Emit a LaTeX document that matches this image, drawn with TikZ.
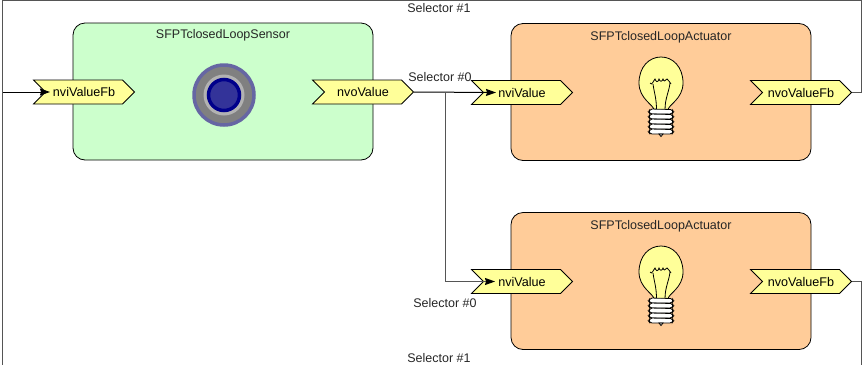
\documentclass[tikz,border=0pt]{standalone}
\usepackage{fontspec}
\setmainfont{Liberation Sans}
\usetikzlibrary{arrows.meta,shapes.symbols}
\definecolor{sensorfill}{HTML}{CCFFCC}
\definecolor{actfill}{HTML}{FFCC99}
\definecolor{portfill}{HTML}{FFFF99}
\definecolor{wiregrey}{HTML}{555555}
\newcommand{\boxw}{300}
\newcommand{\boxh}{137}
\newcommand{\shiftb}{189}
% bulb, #1 = vertical shift
\newcommand{\bulb}[1]{
	\begin{scope}[shift={(661,84+#1)}]
	\draw [bulbline,fill=portfill] (-7,26) .. controls (-7,21) and (-22,15) .. (-22,-1) .. controls (-22,-17) and (-12,-27) .. (0,-27) .. controls (12,-27) and (22,-17) .. (22,-1) .. controls (22,15) and (7,21) .. (7,26) -- cycle;
	\draw [bulbline] (-4.5,26) .. controls (-4.5,14) and (-7,8) .. (-8,0);
	\draw [bulbline] (4,26) .. controls (4,14) and (8,8) .. (9,-1);
	\draw [bulbline] (-11,-1) .. controls (-9,2) and (-8,-3) .. (-6,-5) .. controls (-5,-2) and (-3,-1) .. (-2,-5) .. controls (-1,-2) and (1,-2) .. (2,-5) .. controls (3,-2) and (4,-3) .. (6,-5) .. controls (7,-3) and (9,-3) .. (10,0);
	\foreach \st in {27,32,37,42,47}{
		\draw [bulbline,fill=white,rounded corners=2pt] (-12.5,\st+1) -- (-11,\st-2) -- (11.5,\st-1.5) -- (12.5,\st+1) -- (11,\st+3) -- (-11,\st+3) -- cycle;
	}
	\draw [bulbline,fill=white] (-2,50) -- (0,52.5) -- (2,50) -- cycle;
	\end{scope}
	}
% actuator block, #1 = tag, #2 = vertical shift
\newcommand{\actuator}[2]{
	\node [block,fill=actfill] (box#1) at (661,92+#2) {};
	\node [title] (title#1) at (661,37+#2) {SFPTclosedLoopActuator};
	\node [port] (in#1) at (522,92.5+#2) {nviValue};
	\node [port] (out#1) at (801,92.5+#2) {nvoValueFb};
	\bulb{#2}
	}
\begin{document}
\begin{tikzpicture}[
      x=1pt,y=-1pt,
      block/.style={draw=black,line width=0.8pt,rectangle,rounded corners=12pt,minimum width=\boxw pt,minimum height=\boxh pt,inner sep=0pt},
      port/.style={draw=black,line width=0.8pt,fill=portfill,signal,signal from=west,signal to=east,signal pointer angle=90,minimum width=101pt,minimum height=24pt,inner sep=0pt,font=\fontsize{12.6}{14}\selectfont},
      title/.style={font=\fontsize{12.5}{14}\selectfont,text=black!85,inner sep=0pt},
      sel/.style={font=\fontsize{12.5}{14}\selectfont,text=black!85,inner sep=0pt},
      wire/.style={line width=1pt,draw=black},
      greywire/.style={line width=1pt,draw=wiregrey},
      tip/.style={-{Stealth[length=10pt,width=7pt,inset=1pt,color=black]}},
      bulbline/.style={line width=0.8pt,draw=black}
    ]
    \useasboundingbox (0,0) rectangle (864,365);
    % sensor block
    \node [block,fill=sensorfill] (boxS) at (223,91.5) {};
    \node [title] (titleS) at (223,35.5) {SFPTclosedLoopSensor};
    \node [port] (inS) at (84,92) {nviValueFb};
    \node [port] (outS) at (363,92) {nvoValue};
    % sensor lamp
    \node [circle,draw=blue!40!black!60,line width=3.5pt,fill=gray,minimum size=60pt,inner sep=0pt] (lampA) at (224,95) {};
    \node [circle,fill=black!30,minimum size=41pt,inner sep=0pt] (lampB) at (lampA) {};
    \node [circle,draw={rgb,255:red,0;green,0;blue,139},line width=3.5pt,fill={rgb,255:red,51;green,51;blue,153},minimum size=31pt,inner sep=0pt] (lampC) at (lampA) {};
    % actuator blocks
    \actuator{A}{0}
    \actuator{B}{\shiftb}
    % free ends
    \coordinate (tipS) at (50,92);
    \coordinate (tipA) at (496,92.5);
    \coordinate (tipB) at (495,281.5);
    \coordinate (junc) at (445,92.5);
    \coordinate (topL) at (2,0.7);
    \coordinate (topR) at (861,0.7);
    \coordinate (botL) at (2,365);
    \coordinate (botR) at (861,365);
    % connections
    \draw [wire,tip] (2,92) -- (tipS);
    \draw [wire,tip] (outS.east) -- (tipA);
    \draw [greywire,tip] (junc) |- (tipB);
    \draw [greywire] (outA.east) -| (topR) -- (topL) -- (botL);
    \draw [greywire] (outB.east) -| (botR);
    % selector labels
    \node [sel] (selA) at (439,8.5) {Selector \#1};
    \node [sel] (selB) at (440,77.5) {Selector \#0};
    \node [sel] (selC) at (445,303.5) {Selector \#0};
    \node [sel] (selD) at (439,358.5) {Selector \#1};
\end{tikzpicture}
\end{document}
